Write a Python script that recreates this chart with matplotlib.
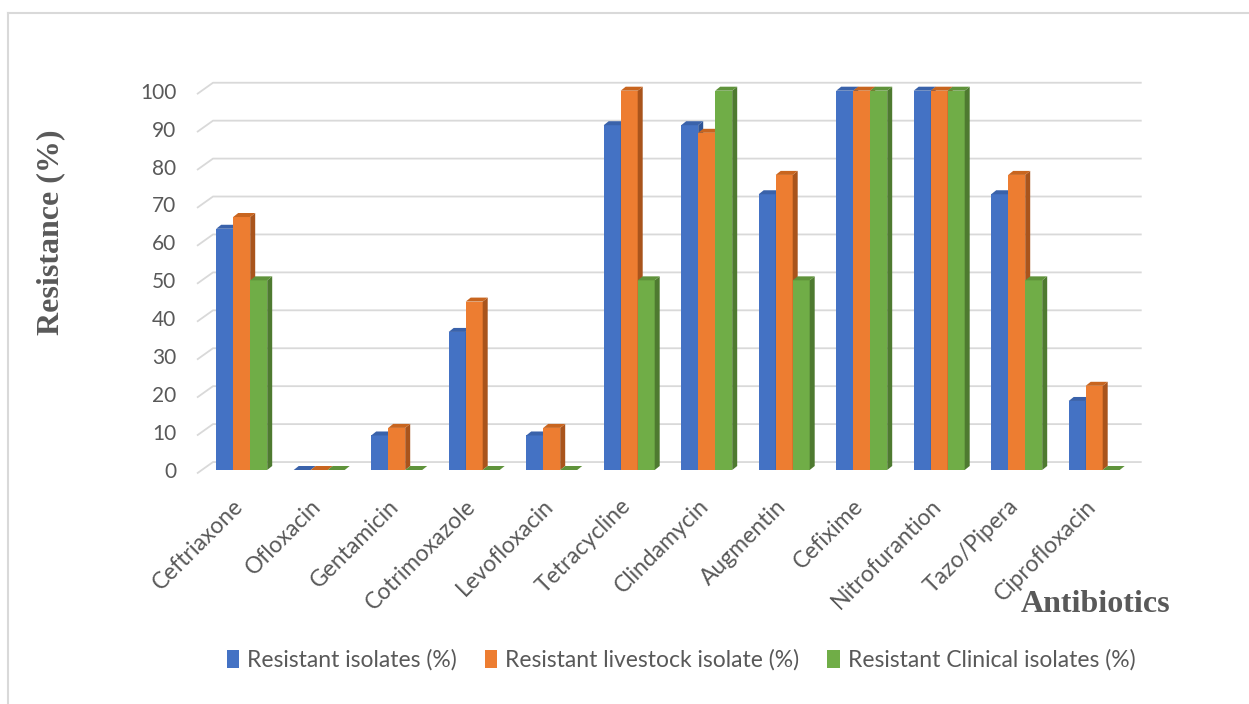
import matplotlib
matplotlib.use("Agg")
import matplotlib.pyplot as plt
from matplotlib.patches import Polygon, Patch
from matplotlib.lines import Line2D
from matplotlib.transforms import ScaledTranslation
import numpy as np

# data
antibiotics = ['Ceftriaxone', 'Ofloxacin', 'Gentamicin', 'Cotrimoxazole', 'Levofloxacin',
               'Tetracycline', 'Clindamycin', 'Augmentin', 'Cefixime', 'Nitrofurantion',
               'Tazo/Pipera', 'Ciprofloxacin']
resistant_isolates = [63.6, 0, 9.1, 36.4, 9.1, 90.9, 90.9, 72.7, 100, 100, 72.7, 18.2]
livestock_isolates = [66.7, 0, 11.1, 44.4, 11.1, 100, 88.9, 77.8, 100, 100, 77.8, 22.2]
clinical_isolates = [50, 0, 0, 0, 0, 50, 100, 50, 100, 100, 50, 0]
series_names = ['Resistant isolates (%)', 'Resistant livestock isolate (%)',
                'Resistant Clinical isolates (%)']
y_ticks = list(range(0, 101, 10))

front_colors = ['#4472C4', '#ED7D31', '#70AD47']
side_colors = ['#2F5597', '#A9541C', '#4E7A30']
top_colors = ['#3A62AA', '#C8651F', '#5F933B']

W, H = 1249, 704
fig = plt.figure(figsize=(W / 100, H / 100), dpi=100)

# axes placed so the front plane of the chart matches the reference
px_per_x = 77.5
px_per_y = 3.793
x0_px, y0_px = 241.7, 470.0
xmin, xmax = (197 - x0_px) / px_per_x, (1141.7 - x0_px) / px_per_x
ymin, ymax = -3, 105
left = 197 / W
bottom = (H - (y0_px - ymin * px_per_y)) / H
height = (ymax - ymin) * px_per_y / H
ax = fig.add_axes([left, bottom, (1141.7 - 197) / W, height])
ax.set_xlim(xmin, xmax)
ax.set_ylim(ymin, ymax)
for s in ax.spines.values():
    s.set_visible(False)

grid_c = '#D9D9D9'
slant_dx = 16 / px_per_x
for v in y_ticks:
    ax.plot([xmin, xmin + slant_dx, xmax], [v - 0.9, v + 2.1, v + 2.1],
            color=grid_c, lw=1.3, zorder=0, clip_on=False, solid_capstyle='butt')

# 3-D-ish bars
bw = 17 / px_per_x
ddx = 5 / px_per_x
ddy = 4 / px_per_y
x = np.arange(len(antibiotics))
all_series = [resistant_isolates, livestock_isolates, clinical_isolates]
z = 2
for i in range(len(antibiotics)):
    for j, vals in enumerate(all_series):
        xc = x[i] + (j - 1) * bw
        h = vals[i]
        xl, xr = xc - bw / 2, xc + bw / 2
        if h > 0:
            ax.bar(xc, h, width=bw, color=front_colors[j], zorder=z, linewidth=0)
            side = Polygon([(xr, 0), (xr + ddx, ddy), (xr + ddx, h + ddy), (xr, h)],
                           closed=True, facecolor=side_colors[j], edgecolor='none', zorder=z)
            ax.add_patch(side)
        top = Polygon([(xl, h), (xl + ddx, h + ddy), (xr + ddx, h + ddy), (xr, h)],
                      closed=True, facecolor=top_colors[j], edgecolor='none', zorder=z)
        ax.add_patch(top)
        z += 1

txt_c = '#595959'
tick_font = 'Lato'
ax.set_yticks(y_ticks)
ax.set_yticklabels([str(v) for v in y_ticks], fontsize=15, color=txt_c, family=tick_font)
ax.tick_params(axis='y', length=0, pad=15)
ax.set_xticks(x)
ax.set_xticklabels(antibiotics, rotation=45, ha='right', va='top', rotation_mode='anchor',
                   fontsize=16.5, color=txt_c, family=tick_font)
ax.tick_params(axis='x', length=0, pad=8)
shift = ScaledTranslation(-9 / 100, -3 / 100, fig.dpi_scale_trans)
for lbl in ax.get_xticklabels():
    lbl.set_transform(lbl.get_transform() + shift)

fig.text(51 / W, 1 - 232 / H, 'Resistance (%)', rotation=90, ha='center', va='center',
         fontsize=23, fontweight='bold', family='Liberation Serif', color='#595959')
fig.text(1096 / W, 1 - 605 / H, 'Antibiotics', ha='center', va='center',
         fontsize=23, fontweight='bold', family='Liberation Serif', color='#595959')

handles = [Patch(facecolor=c, edgecolor='none') for c in front_colors]
leg = fig.legend(handles, series_names, loc='center', bbox_to_anchor=(681 / W, 1 - 660 / H),
                 ncol=3, frameon=False, handlelength=0.55, handleheight=0.8,
                 handletextpad=0.35, columnspacing=1.2,
                 prop={'family': tick_font, 'size': 16.5})
for t in leg.get_texts():
    t.set_color(txt_c)

# outer chart border (only top and left visible in the crop)
fig.add_artist(Line2D([8 / W, 1], [1 - 13 / H, 1 - 13 / H], color=grid_c, lw=1.5))
fig.add_artist(Line2D([8 / W, 8 / W], [0, 1 - 13 / H], color=grid_c, lw=1.5))

fig.savefig('out.png', dpi=100)
